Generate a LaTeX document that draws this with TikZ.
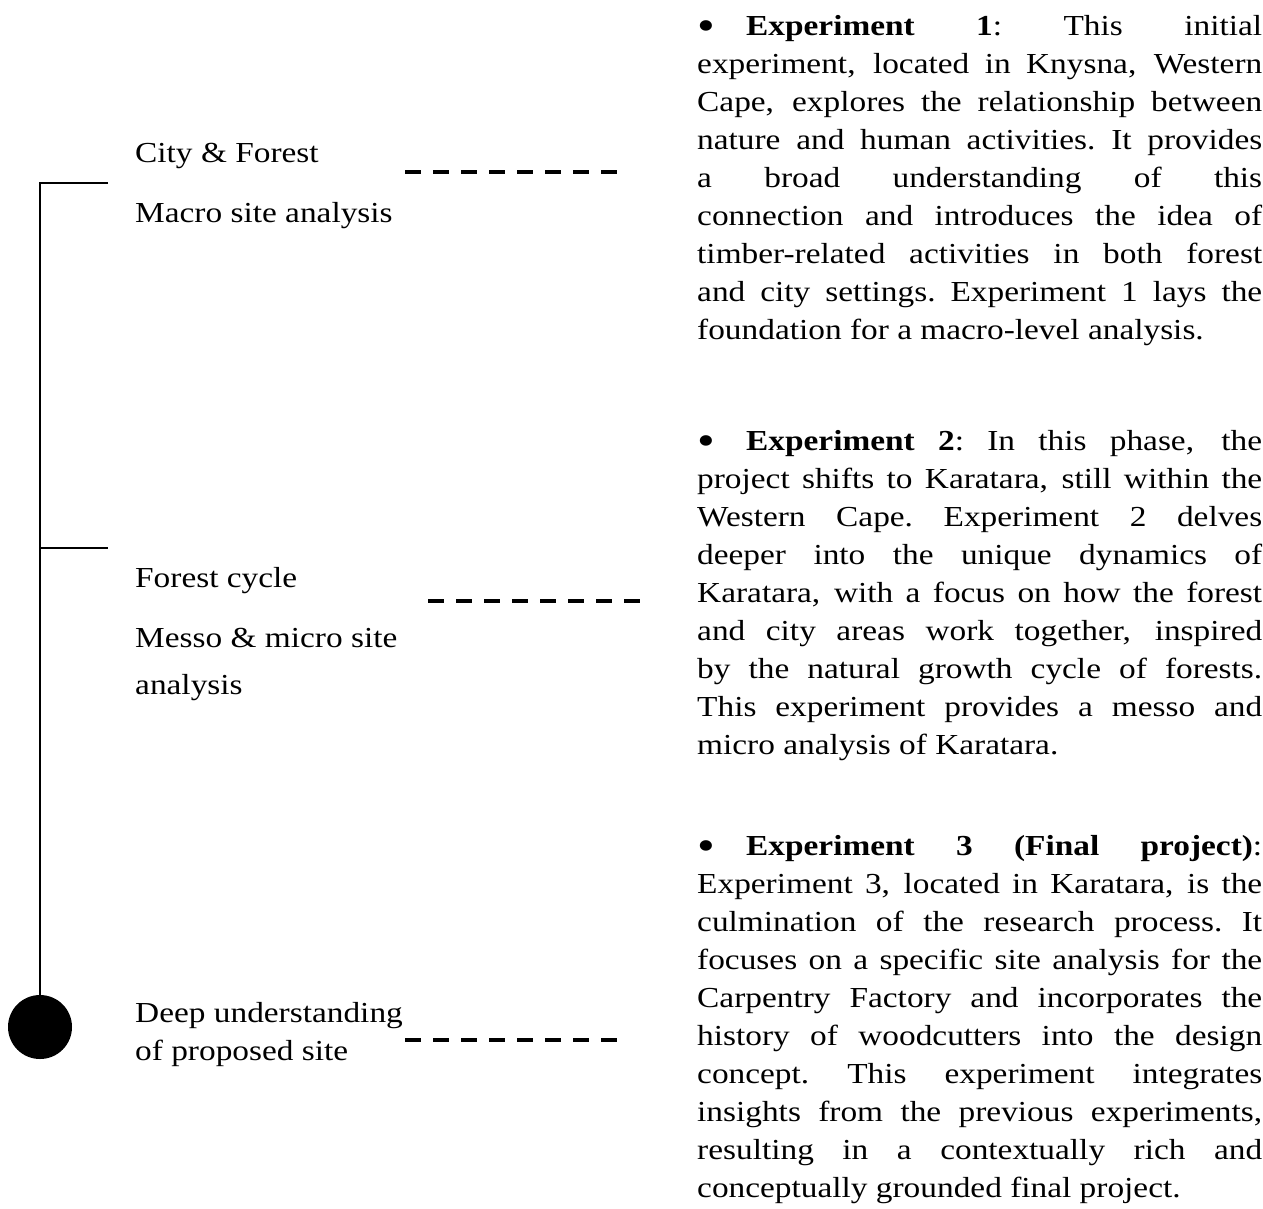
\documentclass[tikz,border=0pt]{standalone}
\usepackage{fontspec}
\setmainfont{Liberation Serif}[FakeStretch=1.15]
\newlength\blockW
\setlength\blockW{565pt}
\newcommand\jl[1]{\hbox to \blockW{\spaceskip=0.25em plus 1fil\relax\xspaceskip=\spaceskip #1}}
\newcommand\lastln[1]{\hbox{#1}}
\newcommand\bul{\makebox[49pt][l]{\raisebox{-5.5pt}{\fontsize{44pt}{44pt}\selectfont •}}}
\begin{document}
\begin{tikzpicture}[x=1pt,y=-1pt,
  font=\fontsize{29pt}{38pt}\selectfont,
  lbl/.style={anchor=base west,inner sep=0pt},
  blk/.style={anchor=base west,inner sep=0pt},
  dashln/.style={line width=4pt,dash pattern=on 16pt off 12pt},
  tline/.style={line width=2.6pt}]
\fill[white] (0,0) rectangle (1263,1208);
\useasboundingbox (0,0) rectangle (1263,1208);

% timeline
\coordinate (t1) at (40,183);
\coordinate (t1e) at (108,183);
\coordinate (t2) at (40,548);
\coordinate (t2e) at (108,548);
\coordinate (tend) at (40,1027);
\draw[tline] (t1e) -- (t1) -- (tend);
\draw[tline] (t2) -- (t2e);
\fill (tend) circle (32pt);

% left labels
\node[lbl] (l1a) at (135,162) {City \& Forest};
\node[lbl] (l1b) at (135,222) {Macro site analysis};
\node[lbl] (l2a) at (135,587) {Forest cycle};
\node[lbl] (l2b) at (135,647) {Messo \& micro site};
\node[lbl] (l2c) at (135,694) {analysis};
\node[lbl] (l3a) at (135,1022) {Deep understanding};
\node[lbl] (l3b) at (135,1060) {of proposed site};

% dashed connectors
\coordinate (d1a) at (405,172); \coordinate (d1b) at (617,172);
\coordinate (d2a) at (428,601); \coordinate (d2b) at (640,601);
\coordinate (d3a) at (405,1040); \coordinate (d3b) at (617,1040);
\draw[dashln] (d1a) -- (d1b);
\draw[dashln] (d2a) -- (d2b);
\draw[dashln] (d3a) -- (d3b);

% right text blocks
\node[blk] (e1) at (697,35) {\parbox[t]{\blockW}{%
\jl{\bul\textbf{Experiment 1}: This initial}
\jl{experiment, located in Knysna, Western}
\jl{Cape, explores the relationship between}
\jl{nature and human activities. It provides}
\jl{a broad understanding of this}
\jl{connection and introduces the idea of}
\jl{timber-related activities in both forest}
\jl{and city settings. Experiment 1 lays the}
\lastln{foundation for a macro-level analysis.}}};

\node[blk] (e2) at (697,450) {\parbox[t]{\blockW}{%
\jl{\bul\textbf{Experiment 2}: In this phase, the}
\jl{project shifts to Karatara, still within the}
\jl{Western Cape. Experiment 2 delves}
\jl{deeper into the unique dynamics of}
\jl{Karatara, with a focus on how the forest}
\jl{and city areas work together, inspired}
\jl{by the natural growth cycle of forests.}
\jl{This experiment provides a messo and}
\lastln{micro analysis of Karatara.}}};

\node[blk] (e3) at (697,855) {\parbox[t]{\blockW}{%
\jl{\bul\textbf{Experiment 3 (Final project)}:}
\jl{Experiment 3, located in Karatara, is the}
\jl{culmination of the research process. It}
\jl{focuses on a specific site analysis for the}
\jl{Carpentry Factory and incorporates the}
\jl{history of woodcutters into the design}
\jl{concept. This experiment integrates}
\jl{insights from the previous experiments,}
\jl{resulting in a contextually rich and}
\lastln{conceptually grounded final project.}}};
\end{tikzpicture}
\end{document}
